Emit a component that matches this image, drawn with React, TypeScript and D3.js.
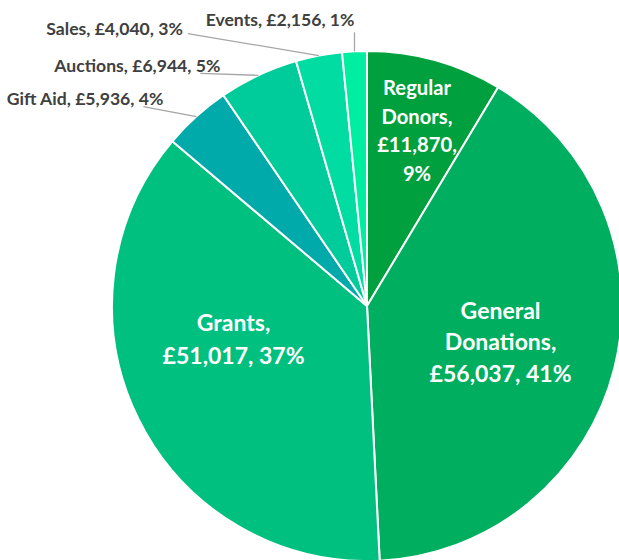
import React from "react";
import * as d3 from "d3";

// slices, clockwise from 12 o'clock
const categories = ["Regular Donors", "General Donations", "Grants", "Gift Aid", "Auctions", "Sales", "Events"];
const amounts = [11870, 56037, 51017, 5936, 6944, 4040, 2156];
const percents = [9, 41, 37, 4, 5, 3, 1];
const colors = ["#00A03F", "#00AE5F", "#00C080", "#00AAAA", "#00CC9B", "#00DCA2", "#00EE9F"];

const WIDTH = 619;
const HEIGHT = 560;
const cx = 367;
const cy = 306;
const radius = 255;

// inside labels: wrapped lines, radius of the centroid, font size, nudge
const insideLayout: Record<string, { lines: string[]; rho: number; size: number; lh: number; dx: number; dy: number }> = {
  "Regular Donors": { lines: ["Regular", "Donors,", "£11,870,", "9%"], rho: 0.72, size: 20.2, lh: 28.7, dx: 1, dy: 1 },
  "General Donations": { lines: ["General", "Donations,", "£56,037, 41%"], rho: 0.54, size: 23, lh: 31.5, dx: 0, dy: 2 },
  "Grants": { lines: ["Grants,", "£51,017, 37%"], rho: 0.54, size: 23, lh: 33, dx: -10, dy: -29 },
};

// outside labels: text end (baseline) relative to arc point, leader start relative to text end
const outsideLayout: Record<string, { dx: number; dy: number; lx: number; ly: number }> = {
  "Gift Aid": { dx: -33, dy: -12, lx: -20, ly: 2 },
  "Auctions": { dx: -38, dy: -3, lx: -20, ly: 1 },
  "Sales": { dx: -136, dy: -21, lx: 5, ly: -1 },
  "Events": { dx: 0, dy: -25, lx: 0, ly: 6 },
};

const fmt = d3.format(",");

export default function App() {
  const data = categories.map((c, i) => ({ name: c, value: amounts[i], pct: percents[i], color: colors[i] }));

  const pie = d3.pie<any>().sort(null).value((d) => d.value);
  const arcs = pie(data);

  const arc = d3.arc<any>().innerRadius(0).outerRadius(radius);
  const edge = d3.arc<any>().innerRadius(radius).outerRadius(radius);

  return (
    <svg width={WIDTH} height={HEIGHT} style={{ position: "absolute", left: 0, top: 0, background: "#fff" }}
      fontFamily="Lato, 'Open Sans', sans-serif" fontWeight="bold">
      <g transform={`translate(${cx},${cy})`}>
        {arcs.map((a) => (
          <path key={a.data.name} d={arc(a) as string} fill={a.data.color} stroke="#fff" strokeWidth={2} strokeLinejoin="round" />
        ))}
        {arcs.filter((a) => insideLayout[a.data.name]).map((a) => {
          const lay = insideLayout[a.data.name];
          const mid = (a.startAngle + a.endAngle) / 2;
          const rho = lay.rho * radius;
          const x = rho * Math.sin(mid) + lay.dx;
          const y = -rho * Math.cos(mid) + lay.dy;
          const n = lay.lines.length;
          return (
            <text key={a.data.name} x={x} textAnchor="middle" fill="#fff" fontSize={lay.size}>
              {lay.lines.map((l, i) => (
                <tspan key={i} x={x} y={y + (i - (n - 1) / 2) * lay.lh} dominantBaseline="central">{l}</tspan>
              ))}
            </text>
          );
        })}
        {arcs.filter((a) => outsideLayout[a.data.name]).map((a) => {
          const lay = outsideLayout[a.data.name];
          const [px, py] = edge.centroid(a);
          const tx = px + lay.dx;
          const ty = py + lay.dy;
          return (
            <g key={a.data.name}>
              <line x1={tx + lay.lx} y1={ty + lay.ly} x2={px} y2={py} stroke="#A6A6A6" strokeWidth={1.3} />
              <text x={tx} y={ty} textAnchor="end" fill="#404040" fontSize={17.6}>
                {`${a.data.name}, £${fmt(a.data.value)}, ${a.data.pct}%`}
              </text>
            </g>
          );
        })}
      </g>
    </svg>
  );
}
